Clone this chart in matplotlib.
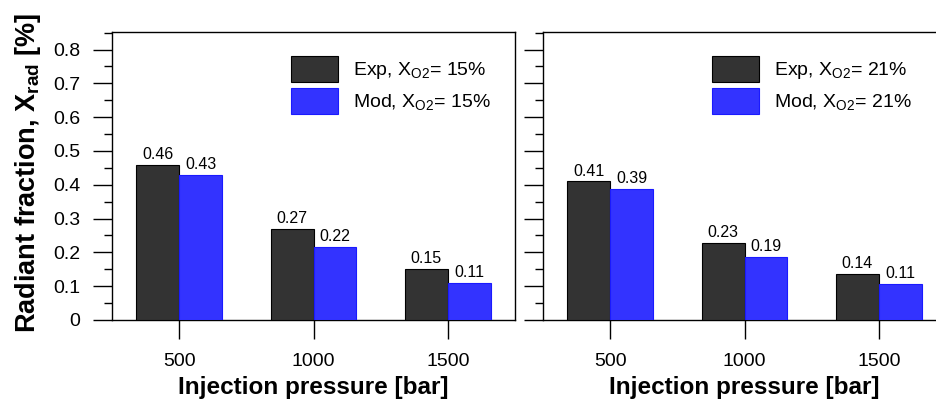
import numpy as np
import matplotlib
matplotlib.use("Agg")
import matplotlib.pyplot as plt
from matplotlib.ticker import MultipleLocator, FuncFormatter

plt.rcParams["font.family"] = ["Liberation Sans", "DejaVu Sans"]
plt.rcParams["mathtext.fontset"] = "custom"
plt.rcParams["mathtext.rm"] = "Liberation Sans"

pressures = [500, 1000, 1500]
exp_15 = [0.46, 0.27, 0.151]
mod_15 = [0.43, 0.217, 0.11]
exp_21 = [0.41, 0.228, 0.137]
mod_21 = [0.389, 0.186, 0.107]
o2_levels = ["15", "21"]

EXP_COLOR = "#333333"
MOD_COLOR = "#3333FF"
BAR_WIDTH = 160

W, H = 936, 399
fig = plt.figure(figsize=(W / 100, H / 100), dpi=100)


def px_axes(left, top, right, bottom):
    return fig.add_axes([left / W, 1 - bottom / H, (right - left) / W, (bottom - top) / H])


ax_l = px_axes(112, 32, 515, 320)
ax_r = px_axes(543, 32, 946, 320)  # runs past the right edge, like the cropped original

for ax, exp, mod, o2, leg_x in [
    (ax_l, exp_15, mod_15, o2_levels[0], 0.444),
    (ax_r, exp_21, mod_21, o2_levels[1], 0.42),
]:
    x = np.array(pressures)
    b1 = ax.bar(x - BAR_WIDTH / 2, exp, width=BAR_WIDTH, color=EXP_COLOR,
                edgecolor="black", linewidth=0.8, zorder=3,
                label=r"Exp, $\mathregular{X_{O2}}$= " + o2 + "%")
    b2 = ax.bar(x + BAR_WIDTH / 2, mod, width=BAR_WIDTH, color=MOD_COLOR,
                edgecolor="#1a1aff", linewidth=0.8, zorder=3,
                label=r"Mod, $\mathregular{X_{O2}}$= " + o2 + "%")
    ax.bar_label(b1, fmt="%.2f", padding=2, fontsize=11.5)
    ax.bar_label(b2, fmt="%.2f", padding=2, fontsize=11.5)

    ax.set_xlim(250, 1750)
    ax.set_ylim(0, 0.852)
    ax.set_xticks(pressures)
    ax.set_xticklabels([str(p) for p in pressures])
    ax.yaxis.set_major_locator(MultipleLocator(0.1))
    ax.yaxis.set_minor_locator(MultipleLocator(0.05))
    ax.yaxis.set_major_formatter(FuncFormatter(lambda v, pos: "0" if abs(v) < 1e-9 else f"{v:.1f}"))
    ax.tick_params(axis="both", which="major", direction="out", length=14,
                   width=1, labelsize=14, top=False, right=False)
    ax.tick_params(axis="y", which="minor", direction="out", length=6, width=1)
    ax.tick_params(axis="x", which="major", pad=10)
    ax.tick_params(axis="y", which="major", pad=9)
    for s in ax.spines.values():
        s.set_linewidth(1)

    ax.set_xlabel("Injection pressure [bar]", fontsize=17.5, fontweight="bold", labelpad=4)
    ax.legend(loc="upper left", bbox_to_anchor=(leg_x, 0.918), frameon=False,
              fontsize=14, handlelength=2.42, handleheight=1.7,
              labelspacing=0.3, handletextpad=0.77, borderpad=0, borderaxespad=0)

ax_r.set_yticklabels([])
ax_l.set_ylabel(r"Radiant fraction, $\mathregular{X_{rad}}$ [%]", fontsize=19.5,
                fontweight="bold")
ax_l.yaxis.set_label_coords(-0.172, 0.51)

fig.savefig("out.png", dpi=100)
